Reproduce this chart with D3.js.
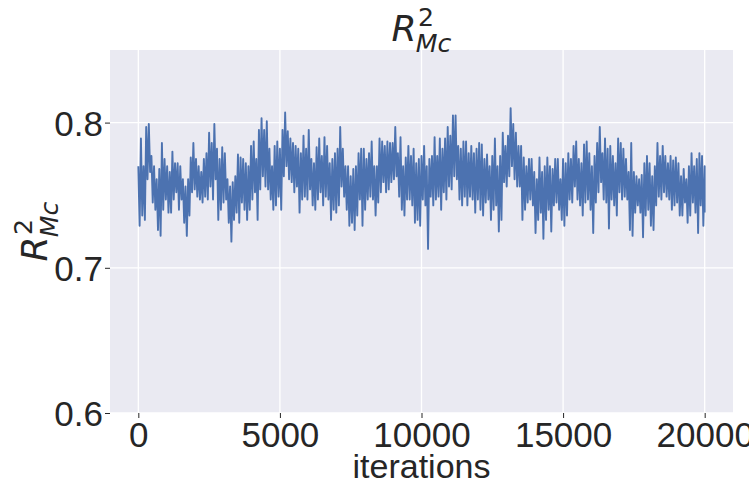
<!DOCTYPE html>
<html>
<head>
<meta charset="utf-8">
<script src="https://cdn.jsdelivr.net/npm/d3@7"></script>
<style>
  html, body { margin: 0; padding: 0; background: #ffffff; overflow: hidden; }
  svg { display: block; }
</style>
</head>
<body>
<div id="chart"></div>
<script>
// ---------- data ----------
const totalIterations = 20000;
const xTicks = [0, 5000, 10000, 15000, 20000];
const yTicks = [0.6, 0.7, 0.8];
const yDomain = [0.6, 0.85];

// upper excursions of the trace, left to right
const upperSamples = [
  0.770,0.789,0.770,0.797,0.799,0.777,0.770,0.761,0.768,0.786,0.775,0.770,0.766,0.780,0.772,0.772,0.770,0.761,0.756,0.761,0.776,0.786,0.775,0.770,0.766,0.775,0.779,0.793,0.786,0.799,0.782,0.775,0.783,0.779,0.761,0.756,0.759,0.763,
  0.778,0.776,0.775,0.772,0.770,0.784,0.787,0.775,0.795,0.803,0.795,0.801,0.782,0.770,0.784,0.787,0.782,0.795,0.807,0.794,0.789,0.786,0.784,0.782,0.779,0.791,0.782,0.795,0.775,0.772,0.783,0.789,0.777,0.790,0.784,0.772,
  0.775,0.779,0.782,0.797,0.782,0.770,0.770,0.763,0.768,0.770,0.779,0.782,0.782,0.775,0.779,0.787,0.770,0.770,0.789,0.787,0.784,0.787,0.786,0.786,0.797,0.779,0.790,0.770,0.776,0.784,0.777,0.782,0.772,0.775,0.777,0.784,
  0.770,0.775,0.777,0.790,0.777,0.789,0.782,0.789,0.797,0.791,0.805,0.805,0.784,0.782,0.787,0.787,0.779,0.784,0.779,0.782,0.786,0.785,0.775,0.778,0.770,0.777,0.789,0.770,0.777,0.793,0.784,0.791,0.810,0.799,0.793,0.784,
  0.784,0.776,0.770,0.775,0.775,0.766,0.761,0.776,0.766,0.770,0.776,0.770,0.768,0.775,0.775,0.761,0.775,0.772,0.779,0.775,0.784,0.787,0.775,0.772,0.785,0.787,0.779,0.770,0.777,0.786,0.797,0.779,0.789,0.782,0.784,0.777,
  0.772,0.789,0.786,0.782,0.775,0.766,0.786,0.766,0.763,0.761,0.764,0.772,0.777,0.772,0.763,0.770,0.786,0.777,0.784,0.777,0.772,0.777,0.774,0.776,0.772,0.763,0.768,0.761,0.770,0.779,0.770,0.775,0.779,0.777,0.770
];
// lower excursions of the trace, left to right
const lowerSamples = [
  0.729,0.736,0.733,0.761,0.766,0.745,0.740,0.726,0.722,0.740,0.747,0.738,0.738,0.747,0.752,0.740,0.747,0.731,0.722,0.736,0.752,0.754,0.749,0.747,0.745,0.749,0.747,0.756,0.747,0.761,0.733,0.740,0.745,0.747,0.731,0.718,0.733,0.738,
  0.731,0.745,0.740,0.733,0.740,0.747,0.752,0.733,0.754,0.763,0.756,0.754,0.747,0.740,0.743,0.749,0.740,0.763,0.770,0.761,0.759,0.752,0.756,0.738,0.747,0.749,0.747,0.754,0.743,0.740,0.747,0.752,0.743,0.749,0.747,0.733,
  0.740,0.738,0.743,0.756,0.749,0.740,0.729,0.731,0.726,0.736,0.747,0.729,0.740,0.747,0.749,0.747,0.736,0.745,0.752,0.759,0.752,0.754,0.759,0.761,0.763,0.749,0.740,0.736,0.747,0.747,0.743,0.731,0.733,0.729,0.747,0.743,
  0.713,0.749,0.743,0.747,0.749,0.740,0.752,0.747,0.756,0.754,0.763,0.761,0.747,0.743,0.749,0.743,0.749,0.747,0.738,0.747,0.740,0.736,0.745,0.747,0.733,0.740,0.743,0.725,0.733,0.759,0.756,0.763,0.770,0.761,0.756,0.756,
  0.733,0.740,0.745,0.747,0.743,0.724,0.733,0.738,0.720,0.733,0.740,0.725,0.743,0.745,0.740,0.733,0.729,0.736,0.747,0.745,0.756,0.747,0.743,0.736,0.745,0.747,0.740,0.724,0.745,0.752,0.759,0.747,0.745,0.727,0.747,0.743,
  0.736,0.752,0.747,0.749,0.747,0.726,0.722,0.738,0.743,0.738,0.721,0.736,0.740,0.729,0.726,0.743,0.749,0.747,0.752,0.749,0.747,0.740,0.743,0.745,0.736,0.736,0.745,0.731,0.736,0.745,0.738,0.724,0.743,0.729,0.738
];

// ---------- layout ----------
const W = 749, H = 484;
const margin = { left: 110, right: 16, top: 50, bottom: 71 };
const xDomain = [-1000, 21000];

const svg = d3.select("#chart").append("svg")
  .attr("width", W).attr("height", H);

const x = d3.scaleLinear().domain(xDomain).range([margin.left, W - margin.right]);
const y = d3.scaleLinear().domain(yDomain).range([H - margin.bottom, margin.top]);

// background
svg.append("rect")
  .attr("x", x.range()[0]).attr("y", y.range()[1])
  .attr("width", x.range()[1] - x.range()[0])
  .attr("height", y.range()[0] - y.range()[1])
  .attr("fill", "#eaeaf2");

// grid
const g = svg.append("g");
g.selectAll(".gx").data(xTicks).join("line")
  .attr("x1", d => x(d)).attr("x2", d => x(d))
  .attr("y1", y.range()[1]).attr("y2", y.range()[0])
  .attr("stroke", "#ffffff").attr("stroke-width", 1.3);
g.selectAll(".gy").data(yTicks).join("line")
  .attr("x1", x.range()[0]).attr("x2", x.range()[1])
  .attr("y1", d => y(d)).attr("y2", d => y(d))
  .attr("stroke", "#ffffff").attr("stroke-width", 1.3);

// series
const series = [];
const n = upperSamples.length;
const step = (totalIterations - 1) / (n - 1);
for (let i = 0; i < n; i++) {
  series.push([i * step, upperSamples[i]]);
  if (i < n - 1) series.push([i * step + step / 2, lowerSamples[i]]);
  else series.push([i * step, lowerSamples[i]]);
}
svg.append("path")
  .datum(series)
  .attr("fill", "none")
  .attr("stroke", "#4c72b0")
  .attr("stroke-width", 1.9)
  .attr("stroke-linejoin", "round")
  .attr("d", d3.line().x(d => x(d[0])).y(d => y(d[1])));

// axes
const font = "'Liberation Sans', Arial, sans-serif";
const xAxis = d3.axisBottom(x).tickValues(xTicks).tickSize(5).tickPadding(4).tickFormat(d3.format("d"));
const yAxis = d3.axisLeft(y).tickValues(yTicks).tickSize(5).tickPadding(2).tickFormat(d3.format(".1f"));

const gx = svg.append("g").attr("transform", `translate(0,${y.range()[0]})`).call(xAxis);
const gy = svg.append("g").attr("transform", `translate(${x.range()[0]},0)`).call(yAxis);
[gx, gy].forEach(ax => {
  ax.select(".domain").remove();
  ax.selectAll(".tick line").attr("stroke", "#262626").attr("stroke-width", 1);
  ax.selectAll(".tick text").attr("fill", "#262626")
    .style("font-family", font).style("font-size", "35px");
});
gx.selectAll(".tick text").attr("dy", "0.71em");
gy.selectAll(".tick text").attr("dy", "0.36em");

// x label
svg.append("text")
  .attr("x", (x.range()[0] + x.range()[1]) / 2).attr("y", 478)
  .attr("text-anchor", "middle")
  .attr("fill", "#262626")
  .style("font-family", font).style("font-size", "34px")
  .text("iterations");

// math label R^2_{Mc} as one text element
function mathLabel(parent, size) {
  const mf = "'DejaVu Sans', sans-serif";
  const small = size * 0.7;
  // measure the superscript width
  const probe = parent.append("text").style("font-family", mf).style("font-size", small + "px").text("2");
  const w2 = probe.node().getComputedTextLength();
  probe.remove();
  const supUp = size * 0.42, subDown = size * 0.30;
  const txt = parent.append("text")
    .attr("x", 0).attr("y", 0)
    .attr("fill", "#262626")
    .style("font-family", mf).style("font-size", size + "px");
  txt.append("tspan").style("font-style", "italic").text("R");
  txt.append("tspan").attr("dx", size * 0.04).attr("dy", -supUp)
    .style("font-size", small + "px").text("2");
  txt.append("tspan").attr("dx", -(w2 + size * 0.06)).attr("dy", supUp + subDown)
    .style("font-size", small + "px").style("font-style", "italic").text("Mc");
  const total = txt.node().getBBox().width;
  return { txt, total };
}

const t = mathLabel(svg, 36);
const cx = (x.range()[0] + x.range()[1]) / 2;
t.txt.attr("transform", `translate(${cx - t.total / 2},41)`);

const yl = mathLabel(svg, 36);
yl.txt.attr("transform", `translate(47,${(y.range()[0] + y.range()[1]) / 2 + yl.total / 2}) rotate(-90)`);
</script>
</body>
</html>
